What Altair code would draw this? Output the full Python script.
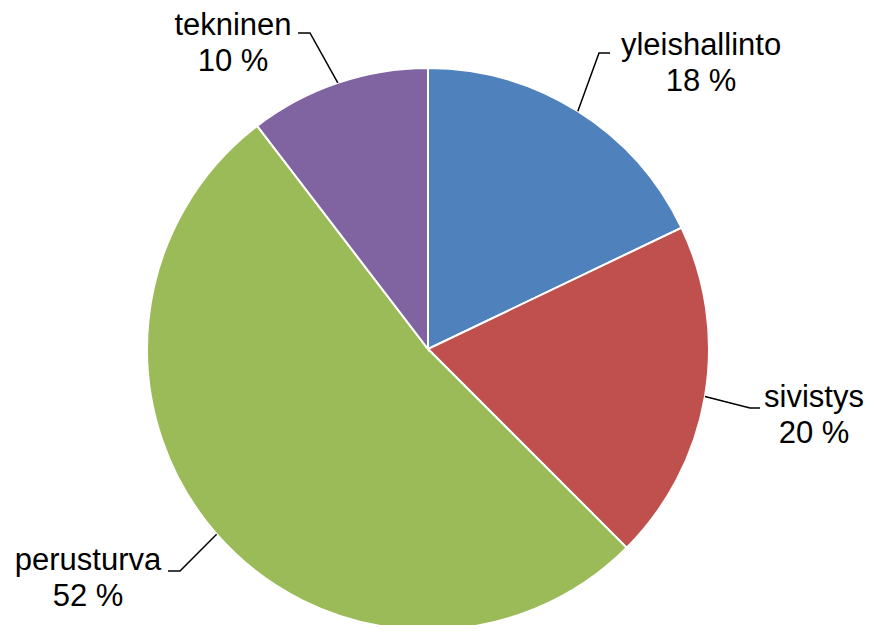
import math
import altair as alt
import pandas as pd

# ---- data ----
categories = ["yleishallinto", "sivistys", "perusturva", "tekninen"]
shares = [17.9, 19.6, 52.1, 10.4]
colors = ["#4F81BD", "#C0504D", "#9BBB59", "#8064A2"]

# ---- layout (pixels, relative to pie centre) ----
W, H = 857, 617
CX, CY = 420, 341
R = 281
label_pos = {  # name centre x, name baseline y
    "yleishallinto": (273, -294),
    "sivistys": (386, 58),
    "perusturva": (-340, 221),
    "tekninen": (-195, -314),
}
elbow_pos = {
    "yleishallinto": [(171, -296), (182, -296)],
    "sivistys": [(322, 59), (332, 59)],
    "perusturva": [(-248, 222), (-260, 222)],
    "tekninen": [(-118, -316), (-130, -316)],
}
LINE_GAP = 36
FONT = "Liberation Sans"
FS = 31

pie_df = pd.DataFrame({"cat": categories, "share": shares, "idx": range(len(categories))})

total = sum(shares)
rows_lbl, rows_line = [], []
cum = 0.0
for c, s in zip(categories, shares):
    mid = (cum + s / 2) / total * 2 * math.pi
    cum += s
    sx = CX + R * math.sin(mid)
    sy = CY - R * math.cos(mid)
    lx, ly = label_pos[c]
    rows_lbl.append({"cat": c, "x": CX + lx, "y": CY + ly, "t": c})
    rows_lbl.append({"cat": c, "x": CX + lx, "y": CY + ly + LINE_GAP, "t": f"{round(s / total * 100)} %"})
    pts = [(sx, sy)] + [(CX + ex, CY + ey) for ex, ey in elbow_pos[c]]
    for k, (px, py) in enumerate(pts):
        rows_line.append({"cat": c, "k": k, "x": px, "y": py})

lbl_df = pd.DataFrame(rows_lbl)
line_df = pd.DataFrame(rows_line)

pie = alt.Chart(pie_df).mark_arc(radius=R, stroke="white", strokeWidth=2).encode(
    theta=alt.Theta("share:Q", stack=True),
    color=alt.Color("cat:N", scale=alt.Scale(domain=categories, range=colors), legend=None),
    order=alt.Order("idx:Q"),
    x=alt.value(CX),
    y=alt.value(CY),
)

lines = alt.Chart(line_df).mark_line(color="black", strokeWidth=1.5).encode(
    x=alt.X("x:Q", scale=None),
    y=alt.Y("y:Q", scale=None),
    detail="cat:N",
    order="k:Q",
)

texts = alt.Chart(lbl_df).mark_text(
    font=FONT, fontSize=FS, color="black", align="center", baseline="alphabetic"
).encode(
    x=alt.X("x:Q", scale=None),
    y=alt.Y("y:Q", scale=None),
    text="t:N",
)

chart = alt.layer(pie, lines, texts).properties(
    width=W, height=H, padding=0, autosize="none"
).configure_view(stroke=None)

chart.save("out.html", embed_options={"renderer": "svg", "actions": False})
